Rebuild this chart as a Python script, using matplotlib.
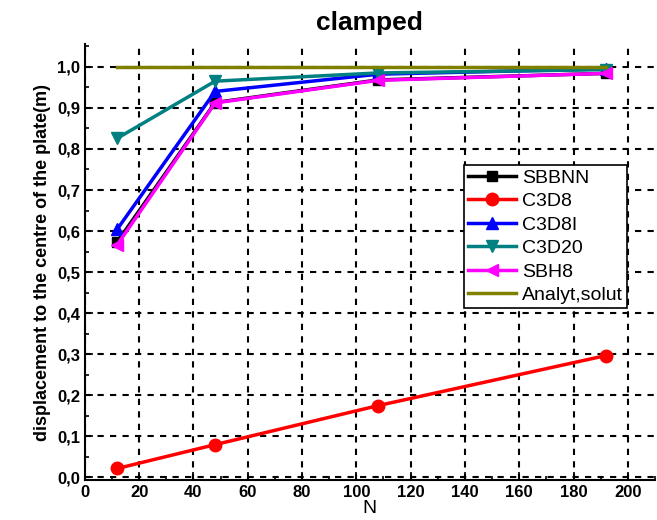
import matplotlib.pyplot as plt
from matplotlib.ticker import MultipleLocator, FuncFormatter

plt.rcParams['font.family'] = ['Liberation Sans', 'DejaVu Sans']

N = [12, 48, 108, 192]
sbbnn = [0.574, 0.913, 0.968, 0.984]
c3d8 = [0.022, 0.080, 0.175, 0.297]
c3d8i = [0.605, 0.940, 0.982, 0.995]
c3d20 = [0.826, 0.965, 0.985, 0.993]
sbh8 = [0.567, 0.912, 0.967, 0.984]
analyt = [1.0, 1.0, 1.0, 1.0]

fig = plt.figure(figsize=(6.57, 5.2), dpi=100)
ax = fig.add_axes([0.129, 0.077, 0.868, 0.838])

ax.plot(N, sbbnn, color='black', marker='s', ms=7, lw=2.5, label='SBBNN')
ax.plot(N, c3d8, color='red', marker='o', ms=9, lw=2.5, label='C3D8')
ax.plot(N, c3d8i, color='blue', marker='^', ms=9, lw=2.5, label='C3D8I')
ax.plot(N, c3d20, color='#008080', marker='v', ms=9, lw=2.5, label='C3D20')
ax.plot(N, sbh8, color='magenta', marker='<', ms=9, lw=2.5, label='SBH8')
ax.plot(N, analyt, color='#808000', lw=2.5, label='Analyt,solut')

ax.set_xlim(0, 210)
ax.set_ylim(-0.006, 1.055)
ax.xaxis.set_major_locator(MultipleLocator(20))
ax.xaxis.set_minor_locator(MultipleLocator(10))
ax.yaxis.set_major_locator(MultipleLocator(0.1))
ax.yaxis.set_minor_locator(MultipleLocator(0.05))
ax.yaxis.set_major_formatter(FuncFormatter(lambda v, p: f'{v:.1f}'.replace('.', ',')))

ax.grid(True, which='major', color='black', linestyle=(0, (3, 3)), lw=1.5)
for s in ['top', 'right']:
    ax.spines[s].set_visible(False)
ax.spines['left'].set_linewidth(1.5)
ax.spines['bottom'].set_linewidth(1.5)
ax.tick_params(which='both', direction='in', width=1.2, labelsize=12)
ax.tick_params(which='major', length=6)
ax.tick_params(which='minor', length=3)
for lab in ax.get_xticklabels() + ax.get_yticklabels():
    lab.set_fontweight('bold')

ax.set_title('clamped', fontsize=19, fontweight='bold', pad=10)
ax.set_xlabel('N', fontsize=14, labelpad=0)
ax.set_ylabel('displacement to the centre of the plate(m)', fontsize=13, fontweight='bold')

leg = ax.legend(loc='upper right', bbox_to_anchor=(0.951, 0.722), fontsize=14,
                fancybox=False, edgecolor='black', framealpha=1,
                borderpad=0.2, labelspacing=0.3, handlelength=2.5,
                handletextpad=0.3, borderaxespad=0)
leg.get_frame().set_linewidth(1.2)

fig.savefig('out.png', dpi=100)
